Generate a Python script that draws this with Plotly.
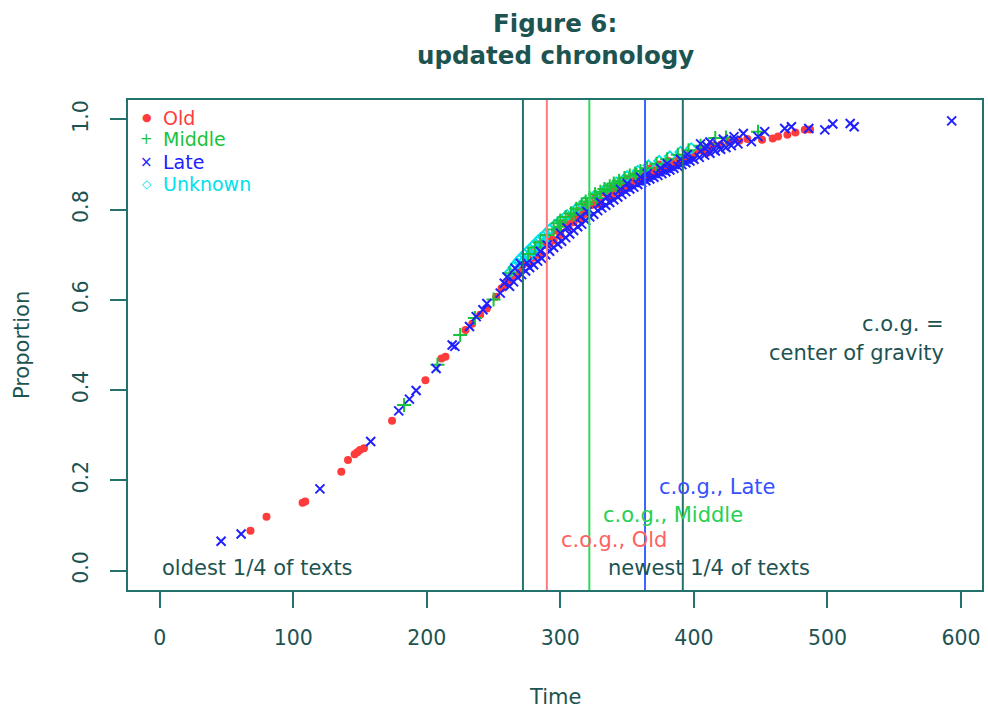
import plotly.graph_objects as go

# ---- data: time vs. cumulative proportion, by text group ----
old_time = [68, 80, 107, 109, 136, 141, 146, 148, 150, 153, 174, 199, 211, 214, 229, 234, 240, 245, 252, 256, 261, 264, 268,
            258, 263, 266, 270, 272, 275, 278, 282, 285, 288, 290, 293, 296, 299, 302, 305, 308, 311, 314, 317, 320,
            323, 326, 329, 332, 335, 338, 341, 344, 347, 350, 353, 356, 359, 362, 365, 368, 371, 374, 378, 381,
            384, 388, 392, 396, 400, 404, 408, 414, 420, 426, 434, 440, 451, 459, 463, 470, 476, 483, 487,
            277, 284, 300, 315, 330, 345, 360, 375, 390, 268, 292, 310, 338, 352, 366, 383,
            280, 295, 306, 318, 327, 336, 348, 357, 370, 386, 398, 410]
old_prop = [0.088, 0.119, 0.150, 0.153, 0.219, 0.245, 0.258, 0.262, 0.267, 0.271, 0.332, 0.422, 0.470, 0.474, 0.533, 0.547, 0.567, 0.581, 0.607, 0.626, 0.640, 0.655, 0.659,
            0.630, 0.646, 0.660, 0.668, 0.678, 0.684, 0.704, 0.706, 0.724, 0.722, 0.738, 0.736, 0.754, 0.752, 0.770, 0.768, 0.784, 0.782, 0.798, 0.796, 0.812,
            0.810, 0.826, 0.822, 0.838, 0.834, 0.848, 0.844, 0.858, 0.854, 0.868, 0.862, 0.876, 0.872, 0.884, 0.878, 0.892, 0.886, 0.900, 0.896, 0.908,
            0.902, 0.916, 0.912, 0.924, 0.922, 0.932, 0.930, 0.942, 0.944, 0.950, 0.953, 0.957, 0.955, 0.958, 0.962, 0.966, 0.971, 0.977, 0.978,
            0.682, 0.700, 0.744, 0.780, 0.812, 0.840, 0.864, 0.886, 0.906, 0.655, 0.724, 0.772, 0.830, 0.852, 0.874, 0.896,
            0.694, 0.732, 0.762, 0.790, 0.812, 0.830, 0.850, 0.864, 0.880, 0.900, 0.914, 0.926]

mid_time = [183, 208, 225, 236, 250, 262, 276, 285, 290, 295, 300, 304, 308, 312, 316, 319, 322, 326, 330, 333, 337,
            340, 344, 348, 352, 356, 360, 365, 372, 380, 388, 396, 405, 416, 424, 448,
            300, 310, 320, 335, 345, 357, 281, 298, 327, 342]
mid_prop = [0.367, 0.456, 0.522, 0.560, 0.601, 0.659, 0.702, 0.728, 0.744, 0.756, 0.776, 0.784, 0.792, 0.802, 0.812, 0.818, 0.826, 0.834, 0.840, 0.846, 0.852,
            0.858, 0.864, 0.870, 0.876, 0.880, 0.886, 0.892, 0.902, 0.912, 0.922, 0.932, 0.942, 0.959, 0.960, 0.973,
            0.762, 0.790, 0.812, 0.842, 0.858, 0.877, 0.716, 0.770, 0.826, 0.850]

late_time = [46, 61, 120, 158, 179, 187, 192, 207, 219, 221, 232, 237, 242, 245, 255, 258, 260, 266, 270,
             262, 265, 268, 271, 274, 277, 280, 283, 286, 289, 292, 295, 298, 301, 304, 307, 310, 313, 316, 319,
             322, 325, 328, 331, 334, 337, 340, 343, 346, 349, 352, 355, 358, 361, 364, 367, 370, 373, 376, 379,
             382, 385, 388, 391, 394, 397, 400, 404, 408, 412, 416, 420, 424, 428, 433,
             285, 300, 315, 330, 345, 360, 375, 390, 405, 418, 430, 395, 380, 365, 350, 335, 320, 305, 290, 275,
             437, 443, 448, 453, 468, 473, 486, 498, 504, 517, 520, 593,
             405, 412, 422, 430, 410]
late_prop = [0.065, 0.081, 0.181, 0.286, 0.354, 0.380, 0.399, 0.448, 0.500, 0.497, 0.541, 0.563, 0.578, 0.592, 0.615, 0.637, 0.651, 0.670, 0.681,
             0.630, 0.640, 0.650, 0.656, 0.664, 0.672, 0.678, 0.686, 0.692, 0.700, 0.708, 0.716, 0.724, 0.730, 0.738, 0.746, 0.754, 0.762, 0.768, 0.776,
             0.784, 0.790, 0.798, 0.804, 0.810, 0.816, 0.822, 0.828, 0.834, 0.840, 0.846, 0.850, 0.856, 0.860, 0.864, 0.868, 0.872, 0.876, 0.880, 0.884,
             0.888, 0.892, 0.896, 0.900, 0.904, 0.908, 0.912, 0.916, 0.921, 0.925, 0.930, 0.934, 0.938, 0.942, 0.946,
             0.708, 0.748, 0.784, 0.816, 0.845, 0.872, 0.892, 0.912, 0.930, 0.944, 0.954, 0.922, 0.902, 0.880, 0.858, 0.828, 0.796, 0.760, 0.722, 0.682,
             0.969, 0.951, 0.962, 0.973, 0.980, 0.984, 0.980, 0.977, 0.990, 0.991, 0.984, 0.997,
             0.946, 0.950, 0.956, 0.962, 0.940]

unk_time = [262, 265, 267, 269, 271, 273, 275, 277, 279, 281, 283, 285, 287, 289, 272, 276, 280, 284, 288,
            292, 296, 300, 305, 312, 318, 326, 334, 342, 350, 358, 366, 374, 382, 390, 398]
unk_prop = [0.660, 0.672, 0.680, 0.688, 0.694, 0.700, 0.706, 0.712, 0.718, 0.724, 0.730, 0.736, 0.740, 0.746, 0.684, 0.694, 0.708, 0.716, 0.728,
            0.756, 0.766, 0.776, 0.788, 0.802, 0.816, 0.832, 0.846, 0.860, 0.874, 0.886, 0.898, 0.908, 0.918, 0.928, 0.936]

# centre-of-gravity times per group and the quartile boundaries
cog_old, cog_middle, cog_late = 289.9, 321.7, 363.4
quarter_oldest, quarter_newest = 272.0, 391.7

x_ticks = [0, 100, 200, 300, 400, 500, 600]
y_ticks = [0.0, 0.2, 0.4, 0.6, 0.8, 1.0]
y_tick_text = ["0.0", "0.2", "0.4", "0.6", "0.8", "1.0"]

assert len(old_time) == len(old_prop)
assert len(mid_time) == len(mid_prop)
assert len(late_time) == len(late_prop)
assert len(unk_time) == len(unk_prop)

# ---- styling ----
FONT = "DejaVu Sans"
INK = "#1d5351"
AXIS = "#23726d"
RED = "#ff3b3b"
GREEN = "#19c43a"
BLUE = "#2020ff"
CYAN = "#00e1ea"

fig = go.Figure()

fig.add_trace(go.Scatter(x=old_time, y=old_prop, mode="markers", name="Old",
                         marker=dict(symbol="circle", size=8, color=RED, line=dict(width=0))))
fig.add_trace(go.Scatter(x=unk_time, y=unk_prop, mode="markers", name="Unknown",
                         marker=dict(symbol="diamond-open", size=8, color=CYAN, line=dict(width=1.8, color=CYAN))))
fig.add_trace(go.Scatter(x=mid_time, y=mid_prop, mode="markers", name="Middle",
                         marker=dict(symbol="cross-thin-open", size=10, color=GREEN, line=dict(width=2, color=GREEN))))
fig.add_trace(go.Scatter(x=late_time, y=late_prop, mode="markers", name="Late",
                         marker=dict(symbol="x-thin-open", size=9, color=BLUE, line=dict(width=2, color=BLUE))))

# vertical reference lines
for xv, col in [(quarter_oldest, AXIS), (cog_old, "#ff7a7a"), (cog_middle, "#2fd95a"),
                (cog_late, "#3d63ff"), (quarter_newest, AXIS)]:
    fig.add_shape(type="line", xref="x", yref="y domain", x0=xv, x1=xv, y0=0, y1=1,
                  line=dict(color=col, width=2))

ann = []
def text(x, y, s, color=INK, size=21, xanchor="center", xref="x", yref="y", angle=0, bold=False, xshift=0):
    ann.append(dict(x=x, y=y, xref=xref, yref=yref, text=(f"<b>{s}</b>" if bold else s), showarrow=False,
                    xanchor=xanchor, yanchor="middle", textangle=angle, xshift=xshift,
                    font=dict(family=FONT, size=size, color=color)))

# title
text(0.5, 1.157, "Figure 6:", size=24.5, xref="paper", yref="paper", bold=True)
text(0.5, 1.090, "updated chronology", size=24.5, xref="paper", yref="paper", bold=True)
# axis titles
text(0.5, -0.218, "Time", xref="paper", yref="paper")
text(-0.124, 0.5, "Proportion", xref="paper", yref="paper", angle=-90)

# in-plot notes
text(0, 0.005, "oldest 1/4 of texts", xanchor="left")
text(411.5, 0.005, "newest 1/4 of texts")
text(cog_old, 0.068, "c.o.g., Old", color="#ff6262", xanchor="left", xshift=12)
text(cog_middle, 0.123, "c.o.g., Middle", color="#26d052", xanchor="left", xshift=12)
text(cog_late, 0.185, "c.o.g., Late", color="#3652ff", xanchor="left", xshift=12)
text(589, 0.546, "c.o.g. =", xanchor="right")
text(589, 0.482, "center of gravity", xanchor="right")

# legend (top-left, no frame)
legend_rows = [("Old", RED, "\u25CF", 11), ("Middle", GREEN, "+", 15),
               ("Late", BLUE, "\u00D7", 15), ("Unknown", CYAN, "\u25C7", 12)]
row_y = [1.0044, 0.9557, 0.9064, 0.857]
for (label, col, sym, ssize), yy in zip(legend_rows, row_y):
    text(-9.6, yy, sym, color=col, size=ssize)
    text(1.3, yy, label, color=col, size=19, xanchor="left")

axis_common = dict(showline=True, mirror=True, linecolor=AXIS, linewidth=1.5,
                   ticks="outside", ticklen=16, tickwidth=1.5, tickcolor=AXIS,
                   showgrid=False, zeroline=False,
                   tickfont=dict(family=FONT, size=20.5, color=INK))

fig.update_layout(
    width=988, height=711,
    margin=dict(l=128, r=4, t=100, b=121),
    paper_bgcolor="white", plot_bgcolor="white",
    showlegend=False,
    annotations=ann,
    xaxis=dict(range=[-23.7, 615.7], tickvals=x_ticks, ticklabelstandoff=13, **axis_common),
    yaxis=dict(range=[-0.0432, 1.0432], tickvals=y_ticks, ticktext=y_tick_text,
               tickangle=-90, ticklabelstandoff=14, **axis_common),
)

fig.write_html("out.html")
